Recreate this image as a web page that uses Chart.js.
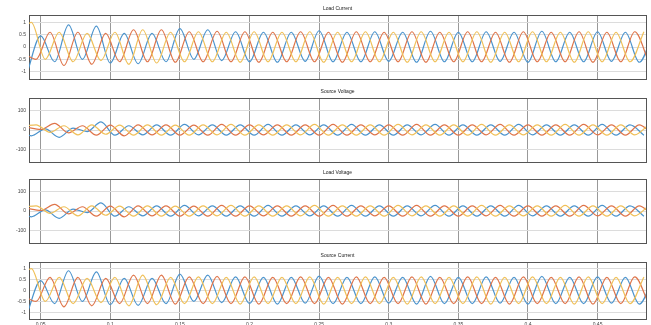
<!DOCTYPE html>
<html><head><meta charset="utf-8">
<script src="https://cdn.jsdelivr.net/npm/chart.js@4.4.1/dist/chart.umd.min.js"></script>
<style>
html,body{margin:0;padding:0;background:#fff;width:651px;height:325px;overflow:hidden;position:relative;}
canvas{position:absolute;left:0;}
</style></head><body>
<canvas id="c1" width="651" height="82" style="top:3px"></canvas>
<canvas id="c2" width="651" height="82" style="top:86px"></canvas>
<canvas id="c3" width="651" height="82" style="top:167px"></canvas>
<canvas id="c4" width="651" height="85" style="top:250px"></canvas>
<script>
// ---- time stamps (s) of the wave extrema, per phase ----
const timeA = [0.04,0.05,0.06,0.07,0.08,0.09,0.10,0.11,0.12,0.13,0.14,0.15,0.16,0.17,0.18,0.19,0.20,0.21,0.22,0.23,0.24,0.25,0.26,0.27,0.28,0.29,0.30,0.31,0.32,0.33,0.34,0.35,0.36,0.37,0.38,0.39,0.40,0.41,0.42,0.43,0.44,0.45,0.46,0.47,0.48,0.49];
const timeB = [0.0367,0.0467,0.0567,0.0667,0.0767,0.0867,0.0967,0.1067,0.1167,0.1267,0.1367,0.1467,0.1567,0.1667,0.1767,0.1867,0.1967,0.2067,0.2167,0.2267,0.2367,0.2467,0.2567,0.2667,0.2767,0.2867,0.2967,0.3067,0.3167,0.3267,0.3367,0.3467,0.3567,0.3667,0.3767,0.3867,0.3967,0.4067,0.4167,0.4267,0.4367,0.4467,0.4567,0.4667,0.4767,0.4867];
const timeC = [0.0333,0.0433,0.0533,0.0633,0.0733,0.0833,0.0933,0.1033,0.1133,0.1233,0.1333,0.1433,0.1533,0.1633,0.1733,0.1833,0.1933,0.2033,0.2133,0.2233,0.2333,0.2433,0.2533,0.2633,0.2733,0.2833,0.2933,0.3033,0.3133,0.3233,0.3333,0.3433,0.3533,0.3633,0.3733,0.3833,0.3933,0.4033,0.4133,0.4233,0.4333,0.4433,0.4533,0.4633,0.4733,0.4833];

// ---- current extrema values (pu) ----
const currentBlue   = [-1.1,0.45,-0.6,0.9,-0.5,0.85,-0.65,0.55,-0.68,0.55,-0.6,0.75,-0.5,0.7,-0.55,0.62,-0.6,0.6,-0.62,0.6,-0.58,0.66,-0.6,0.6,-0.6,0.62,-0.58,0.6,-0.62,0.64,-0.6,0.6,-0.6,0.62,-0.58,0.6,-0.62,0.64,-0.6,0.6,-0.6,0.62,-0.58,0.6,-0.62,0.6];
const currentOrange = [-0.2,-0.5,0.6,-0.75,0.6,-0.7,0.55,-0.6,0.7,-0.6,0.7,-0.62,0.62,-0.6,0.64,-0.6,0.62,-0.62,0.6,-0.6,0.62,-0.6,0.6,-0.62,0.62,-0.6,0.6,-0.6,0.62,-0.62,0.6,-0.6,0.62,-0.6,0.6,-0.62,0.62,-0.6,0.6,-0.6,0.62,-0.62,0.6,-0.6,0.62,-0.6];
const currentYellow = [0.3,1.0,-0.5,0.6,-0.6,0.55,-0.55,0.6,-0.7,0.7,-0.65,0.6,-0.6,0.62,-0.6,0.6,-0.62,0.62,-0.6,0.6,-0.6,0.62,-0.62,0.6,-0.6,0.62,-0.6,0.6,-0.62,0.62,-0.6,0.6,-0.6,0.62,-0.62,0.6,-0.6,0.62,-0.6,0.6,-0.62,0.62,-0.6,0.6,-0.6,0.62];

// ---- voltage extrema values (V) ----
const voltageBlue   = [-6,-30,6,-38,10,-8,42,-27,22,-25,27,-27,29,-25,27,-27,27,-27,29,-27,27,-25,27,-27,29,-27,27,-27,27,-25,29,-27,27,-27,27,-27,29,-25,27,-27,27,-27,29,-27,27,-27];
const voltageOrange = [15,3,34,-15,22,-27,25,-30,27,-25,27,-27,25,-27,29,-27,27,-25,27,-27,27,-27,29,-27,27,-25,27,-27,29,-27,27,-27,27,-25,29,-27,27,-27,27,-27,29,-25,27,-27,27,-27];
const voltageYellow = [18,27,-12,22,-25,27,-22,25,-27,27,-27,25,-27,27,-25,29,-27,27,-27,27,-25,29,-27,27,-27,27,-27,29,-25,27,-27,27,-27,29,-27,27,-25,27,-27,29,-27,27,-27,27,-25,27];

// ---- axes ----
const xTickValues = [0.05,0.1,0.15,0.2,0.25,0.3,0.35,0.4,0.45];
const xTickLabels = ['0.05','0.1','0.15','0.2','0.25','0.3','0.35','0.4','0.45'];
const currentTicks = [-1,-0.5,0,0.5,1];
const currentTickLabels = ['-1','-0.5','0','0.5','1'];
const voltageTicks = [-100,0,100];
const voltageTickLabels = ['-100','0','100'];
const panelTitles = ['Load Current','Source Voltage','Load Voltage','Source Current'];

const X_MIN = 0.0416, X_MAX = 0.4848;
const COLORS = {blue:'#4a93cd', orange:'#df7449', yellow:'#f0c058'};
Chart.defaults.font.family = "'Liberation Sans', Arial, sans-serif";

const currentSeries = [
  {t:timeA, v:currentBlue, color:COLORS.blue, order:2},
  {t:timeB, v:currentOrange, color:COLORS.orange, order:1},
  {t:timeC, v:currentYellow, color:COLORS.yellow, order:0}
];
const voltageSeries = [
  {t:timeC, v:voltageBlue, color:COLORS.blue, order:2},
  {t:timeA, v:voltageOrange, color:COLORS.orange, order:1},
  {t:timeB, v:voltageYellow, color:COLORS.yellow, order:0}
];

const panels = [
  {id:'c1', title:panelTitles[0], series:currentSeries, yMin:-1.3, yMax:1.3, ticks:currentTicks, labels:currentTickLabels, xAxisH:6, showX:false},
  {id:'c2', title:panelTitles[1], series:voltageSeries, yMin:-166, yMax:166, ticks:voltageTicks, labels:voltageTickLabels, xAxisH:6, showX:false},
  {id:'c3', title:panelTitles[2], series:voltageSeries, yMin:-166, yMax:166, ticks:voltageTicks, labels:voltageTickLabels, xAxisH:6, showX:false},
  {id:'c4', title:panelTitles[3], series:currentSeries, yMin:-1.3, yMax:1.3, ticks:currentTicks, labels:currentTickLabels, xAxisH:16, showX:true}
];

function makeChart(p){
  new Chart(document.getElementById(p.id), {
    type:'line',
    data:{datasets:p.series.map(s=>({
      data:s.t.map((t,i)=>({x:t, y:s.v[i]})),
      borderColor:s.color, borderWidth:1.2, pointRadius:0,
      cubicInterpolationMode:'monotone', fill:false, order:s.order,
      xAxisID:'x', yAxisID:'y'
    }))},
    options:{
      responsive:false, animation:false, devicePixelRatio:1, events:[],
      layout:{padding:{left:0,right:5,top:0,bottom:0}},
      plugins:{
        legend:{display:false}, tooltip:{enabled:false},
        title:{display:true, text:p.title, fullSize:false, color:'#222',
          font:{size:5, weight:'normal'}, padding:{top:3,bottom:3}}
      },
      scales:{
        x:{type:'linear', min:X_MIN, max:X_MAX,
          afterBuildTicks:s=>{s.ticks = xTickValues.map(v=>({value:v}));},
          ticks:{display:p.showX, autoSkip:false, maxRotation:0, padding:3, color:'#444', font:{size:5},
            callback:v=>xTickLabels[xTickValues.indexOf(v)]},
          grid:{color:'#999999', lineWidth:1, drawTicks:false},
          border:{display:true, color:'#555'},
          afterFit:s=>{s.height = p.xAxisH;}
        },
        x2:{type:'linear', position:'top', min:X_MIN, max:X_MAX,
          ticks:{display:false}, grid:{display:false, drawTicks:false},
          border:{display:true, color:'#555'},
          afterFit:s=>{s.height = 0;}
        },
        y:{type:'linear', min:p.yMin, max:p.yMax,
          afterBuildTicks:s=>{s.ticks = p.ticks.map(v=>({value:v}));},
          ticks:{padding:3, color:'#444', font:{size:5},
            callback:v=>p.labels[p.ticks.indexOf(v)]},
          grid:{color:'#dcdcdc', lineWidth:1, drawTicks:false},
          border:{display:true, color:'#555'},
          afterFit:s=>{s.width = 29;}
        },
        y2:{type:'linear', position:'right', min:p.yMin, max:p.yMax,
          ticks:{display:false}, grid:{display:false, drawTicks:false},
          border:{display:true, color:'#555'},
          afterFit:s=>{s.width = 0;}
        }
      }
    }
  });
}
panels.forEach(makeChart);
</script>
</body></html>
